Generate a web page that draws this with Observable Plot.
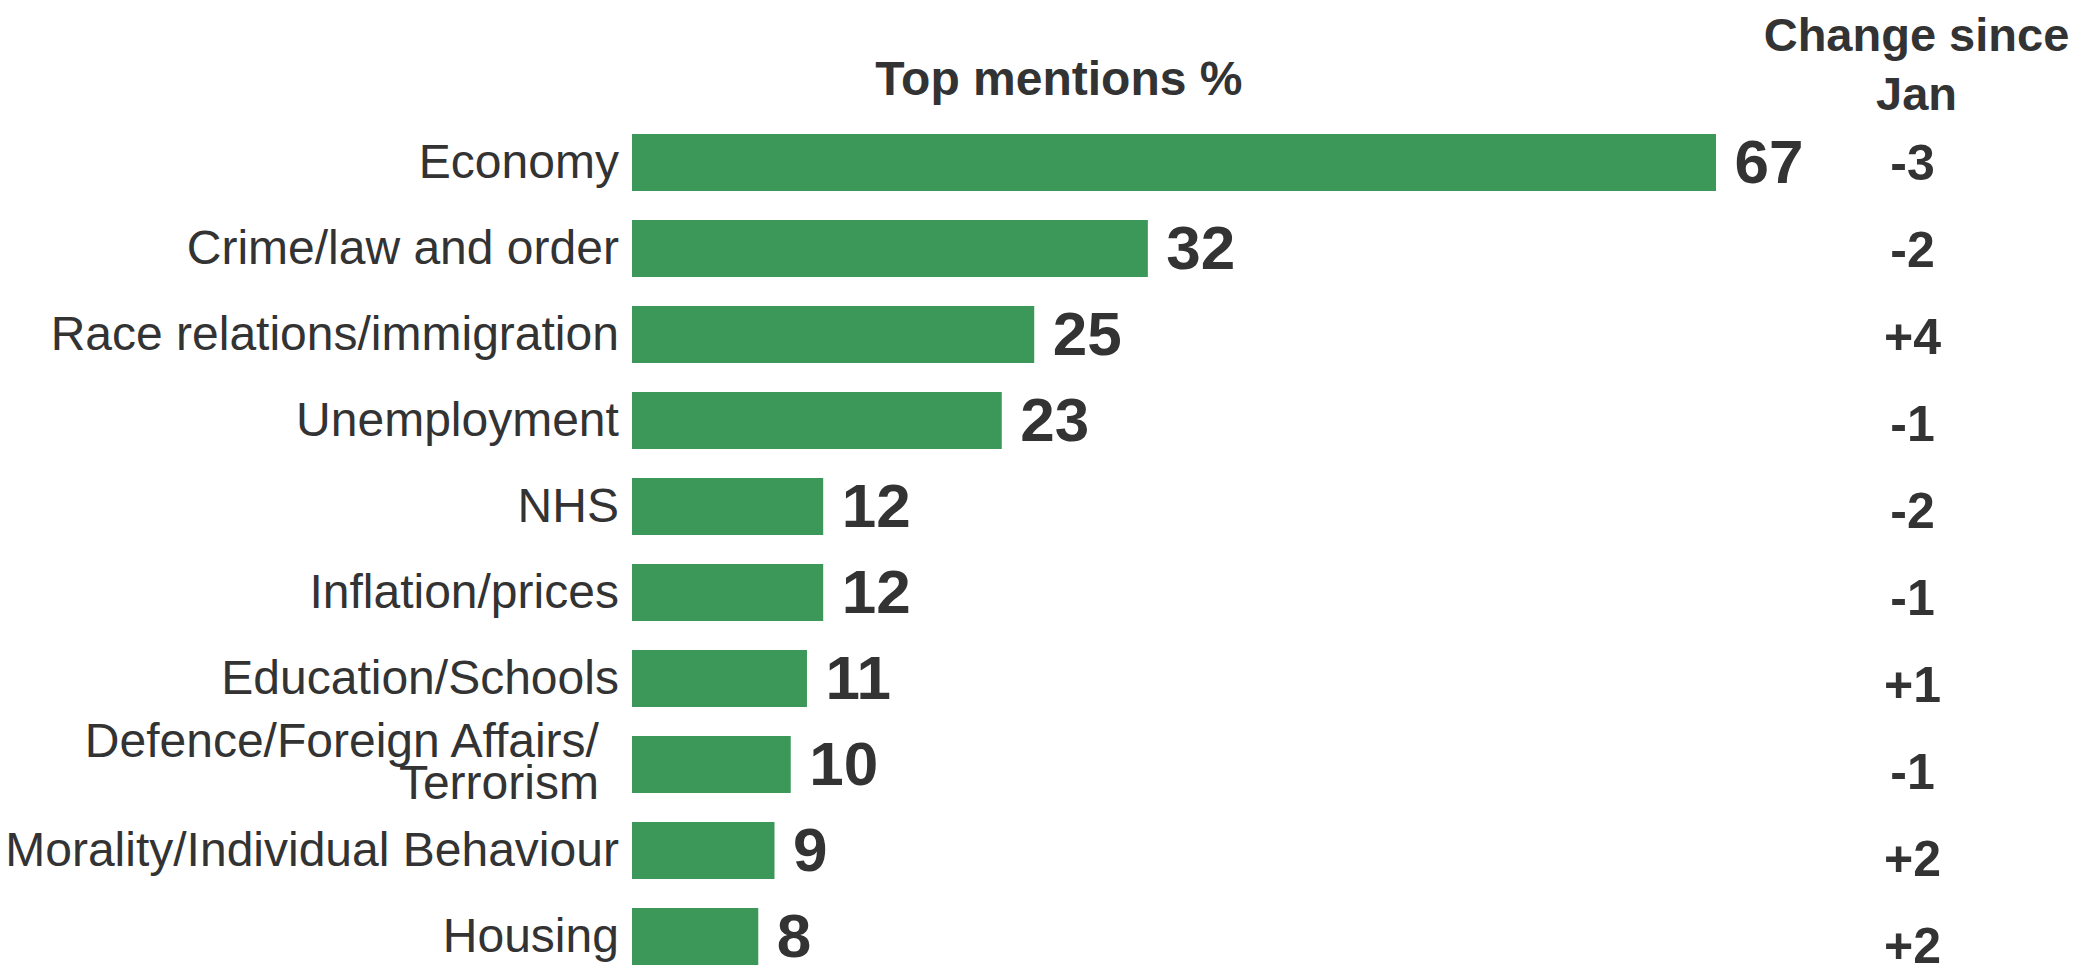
<!DOCTYPE html>
<html><head><meta charset="utf-8">
<script src="https://cdn.jsdelivr.net/npm/d3@7"></script>
<script src="https://cdn.jsdelivr.net/npm/@observablehq/plot@0.6"></script>
<style>body{margin:0;background:#fff;} svg{display:block;} #chart{position:relative;width:2075px;height:970px;} #chart .overlay{position:absolute;left:0;top:0;background:transparent;}</style>
</head><body><div id="chart"></div>
<script>
const categories = ["Economy","Crime/law and order","Race relations/immigration","Unemployment","NHS","Inflation/prices","Education/Schools","Defence/Foreign Affairs/\nTerrorism","Morality/Individual Behaviour","Housing"];
const mentions = [67,32,25,23,12,12,11,10,9,8];
const changes = ["-3","-2","+4","-1","-2","-1","+1","-1","+2","+2"];
const titleMain = "Top mentions %";
const titleChange = "Change since\nJan";

const data = categories.map((c,i)=>({category:c, value:mentions[i], change:changes[i]}));
const font = "'Liberation Sans', Arial, sans-serif";
const ink = "#333333";
const chart = Plot.plot({
  width: 2075, height: 970,
  marginLeft: 628.4, marginRight: 359, marginTop: 130.7, marginBottom: 1.7,
  style: {fontFamily: font, background:"#fff"},
  x: {domain:[0,67], axis:null},
  y: {domain: categories, axis:null, paddingInner:0.335, paddingOuter:0},
  marks: [
    Plot.barX(data, {x:"value", y:"category", fill:"#3c9858", insetLeft:3.6}),
    Plot.text(data.filter(d=>!d.category.includes("\n")), {y:"category", text:"category", frameAnchor:"left", textAnchor:"end", dx:-10, fontSize:48, fill:ink}),
    Plot.text(data.filter(d=>d.category.includes("\n")), {y:"category", text:"category", frameAnchor:"left", textAnchor:"end", dx:-30, fontSize:48, lineHeight:0.87, fill:ink}),
    Plot.text(data, {x:"value", y:"category", text: d=>String(d.value), textAnchor:"start", dx:18, fontSize:62, fontWeight:"bold", fill:ink}),
    Plot.text([titleMain], {text:d=>d, frameAnchor:"top-left", dx:430, dy:-36, lineAnchor:"bottom", textAnchor:"middle", fontSize:48, fontWeight:"bold", fill:ink}),
    Plot.text([titleChange], {text:d=>d, frameAnchor:"top-right", dx:200, dy:-21, lineAnchor:"bottom", textAnchor:"middle", fontSize:47, lineHeight:1.27, fontWeight:"bold", fill:ink})
  ]
});
// change column: its rows are spaced slightly wider than the bars
const changeCol = Plot.plot({
  width: 2075, height: 970,
  marginLeft: 628.4, marginRight: 359, marginTop: 0, marginBottom: 0,
  style: {fontFamily: font, background:"transparent"},
  x: {domain:[0,67], axis:null},
  y: {type:"point", domain: categories, range:[162.5, 946], padding:0, axis:null},
  marks: [
    Plot.text(data, {y:"category", text:"change", frameAnchor:"right", textAnchor:"middle", dx:196, fontSize:50, fontWeight:"bold", fill:ink})
  ]
});
changeCol.classList.add("overlay");
const el = document.getElementById("chart");
el.appendChild(chart);
el.appendChild(changeCol);
</script>
</body></html>
